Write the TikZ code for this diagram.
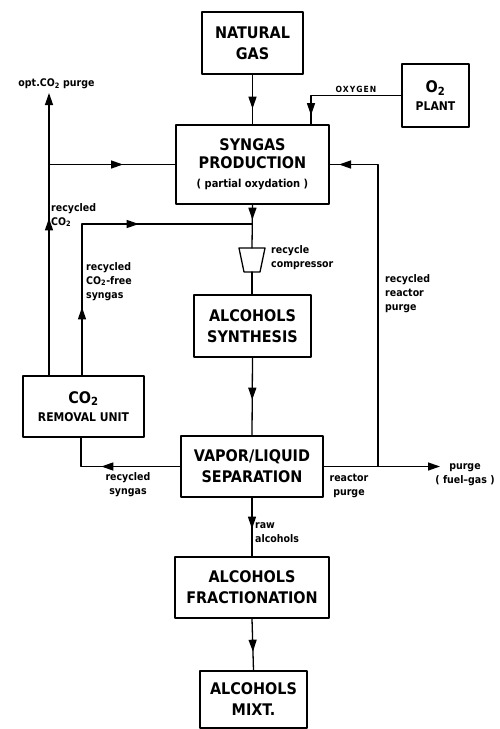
\documentclass[tikz,border=0pt]{standalone}
\usepackage{fontspec}
\setmainfont{DejaVu Sans Condensed}
\usetikzlibrary{positioning,arrows.meta,shapes.geometric,decorations.markings}

\tikzset{
  unit/.style={draw, line width=1.4pt, align=center, inner sep=1pt,
    font=\bfseries\fontsize{16}{21}\selectfont},
  lbl/.style={font=\bfseries\fontsize{10.5}{14}\selectfont, inner sep=0pt},
  flow/.style={line width=1.3pt},
  endtip/.style={-{Triangle[length=12pt,width=8pt]}},
  tipat/.style={postaction={decorate}, decoration={markings,
    mark=at position #1 with {\arrow{Triangle[length=12pt,width=8pt]}}}},
  tipsat/.style 2 args={postaction={decorate}, decoration={markings,
    mark=at position #1 with {\arrow{Triangle[length=12pt,width=8pt]}},
    mark=at position #2 with {\arrow{Triangle[length=12pt,width=8pt]}}}},
}

\begin{document}
\begin{tikzpicture}[x=1pt,y=-1pt, line cap=round, line join=round]
\useasboundingbox (0,0) rectangle (499,729);

% process units
\node[unit, minimum width=101pt, minimum height=62pt] (ng) at (252.5,43) {NATURAL\\GAS};
\node[unit, minimum width=67pt, minimum height=63pt] (o2) at (435.5,95.5)
  {O\textsubscript{2}\\[-3pt]{\fontsize{12}{15}\selectfont PLANT}};
\node[unit, minimum width=153pt, minimum height=79pt] (syn) at (252.5,164.5)
  {SYNGAS\\[-3pt]PRODUCTION\\[-2pt]{\fontsize{11}{14}\selectfont ( partial oxydation )}};
\node[unit, minimum width=117pt, minimum height=62pt] (alc) at (252.5,326) {ALCOHOLS\\SYNTHESIS};
\node[unit, minimum width=121pt, minimum height=61pt] (co2) at (83.5,406.5)
  {CO\textsubscript{2}\\[-3pt]{\fontsize{12}{15}\selectfont REMOVAL UNIT}};
\node[unit, minimum width=142pt, minimum height=61pt] (sep) at (252,466.5) {VAPOR/LIQUID\\SEPARATION};
\node[unit, minimum width=154pt, minimum height=61pt] (frac) at (252,587.5) {ALCOHOLS\\FRACTIONATION};
\node[unit, minimum width=107pt, minimum height=57pt] (mix) at (253.5,699.5) {ALCOHOLS\\MIXT.};

% recycle compressor (open cup)
\coordinate (comptop) at (252,248);
\coordinate (compbot) at (252,272);
\draw[flow] (239,248) -- (265,248) -- (260,272) -- (244,272) -- cycle;

% free ends and junctions
\coordinate (ptop) at (49,93);
\coordinate (jn) at (252,224);
\coordinate (rj) at (378,466.5);
\coordinate (pend) at (440,466.5);

% main line
\draw[flow, tipat=34pt] (ng.south) -- (ng.south |- syn.north);
\draw[flow, tipat=15pt] (syn.south) -- (comptop);
\draw[flow] (compbot) -- (compbot |- alc.north);
\draw[flow, tipat=42pt] (alc.south) -- (sep.north);
\draw[flow, tipat=31pt] (sep.south) -- (frac.north);
\draw[flow, tipat=33pt] (frac.south) -- (mix.north);

% oxygen
\draw[flow, tipat=110pt] (o2.west) -| ([xshift=58.5pt]syn.north);

% CO2 loop
\draw[flow, endtip, tipat=157pt] ([xshift=-34.5pt]co2.north) -- (ptop);
\draw[flow, tipat=74pt] (syn.west -| ptop) -- (syn.west);
\draw[flow, tipsat={68pt}{208pt}] ([xshift=-1.5pt]co2.north) |- (jn);
\draw[flow, tipat=79pt] (sep.west) -| ([xshift=-2.5pt]co2.south);

% reactor purge
\draw[flow, endtip] (sep.east) -- (pend);
\draw[flow, tipat=341pt] (rj) |- (syn.east);

% labels
\node[lbl, anchor=south] (lopt) at (56.5,89) {opt.CO\textsubscript{2} purge};
\node[lbl, font=\bfseries\fontsize{8.5}{10}\selectfont\addfontfeature{LetterSpace=12}] (loxy) at (356,89) {OXYGEN};
\node[lbl, anchor=north west, align=left] (lrco2) at (51,203) {recycled\\CO\textsubscript{2}};
\node[lbl, anchor=west, align=left] (lcomp) at (271,258) {recycle\\compressor};
\node[lbl, anchor=north west, align=left] (lfree) at (86,262) {recycled\\CO\textsubscript{2}-free\\syngas};
\node[lbl, anchor=north west, align=left] (lrrp) at (385,274) {recycled\\reactor\\purge};
\node[lbl, anchor=north, align=center] (lrsyn) at (128,472) {recycled\\syngas};
\node[lbl, anchor=north, align=center] (lrp) at (349,474) {reactor\\purge};
\node[lbl, anchor=north, align=center] (lpurge) at (465,463) {purge\\( fuel--gas )};
\node[lbl, anchor=north west, align=left] (lraw) at (255,522) {raw\\alcohols};
\end{tikzpicture}
\end{document}
